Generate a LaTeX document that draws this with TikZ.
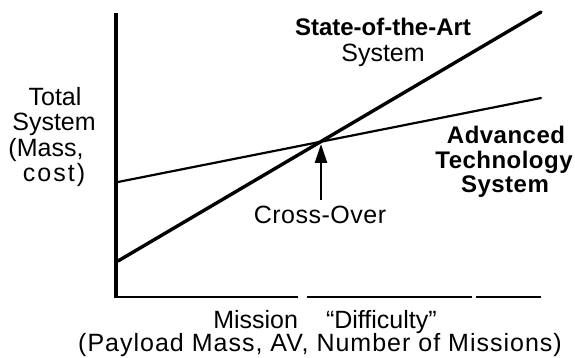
\documentclass[tikz,border=0pt]{standalone}
\usepackage{fontspec}
\setmainfont{Liberation Sans}
\usetikzlibrary{arrows.meta}
\begin{document}
\begin{tikzpicture}[x=1pt,y=-1pt,
  lbl/.style={inner sep=0pt, anchor=base, font=\fontsize{25}{27}\selectfont},
  wlbl/.style={lbl, font=\fontsize{25}{27}\selectfont\addfontfeature{LetterSpace=4}},
  blbl/.style={inner sep=0pt, anchor=base, font=\fontsize{24}{26}\selectfont\bfseries},
  axisv/.style={line width=4pt},
  axish/.style={line width=2.2pt},
  soa/.style={line width=3.4pt, line cap=round},
  adv/.style={line width=2.2pt, line cap=round},
  crossarrow/.style={line width=2.6pt, -{Triangle[width=12pt,length=19pt]}}]
\useasboundingbox (0,0) rectangle (575,358);
% axes
\coordinate (ytop) at (116,13);
\coordinate (orig) at (116,298);
\coordinate (xa1) at (298,297);
\coordinate (xb0) at (307,297);
\coordinate (xb1) at (472,297);
\coordinate (xc0) at (476,297);
\coordinate (xc1) at (541,297);
\draw[axisv] (ytop) -- (orig);
\draw[axish] (114,297) -- (xa1);
\draw[axish] (xb0) -- (xb1);
\draw[axish] (xc0) -- (xc1);
% curves
\coordinate (s0) at (118,261);
\coordinate (s1) at (541,12);
\coordinate (a0) at (118,182);
\coordinate (a1) at (541,98);
\draw[soa] (s0) -- (s1);
\draw[adv] (a0) -- (a1);
% cross-over
\node[wlbl, font=\fontsize{25}{27}\selectfont\addfontfeature{LetterSpace=2}] (cross) at (320,223) {Cross-Over};
\coordinate (tip) at (321,144);
\draw[crossarrow] (321,200) -- (tip);
% labels
\node[blbl] (soaA) at (383,36) {State-of-the-Art};
\node[lbl] (soaB) at (383,62) {System};
\node[blbl, font=\fontsize{24}{26}\selectfont\bfseries\addfontfeature{LetterSpace=2}] (advA) at (506,144) {Advanced};
\node[blbl, font=\fontsize{24}{26}\selectfont\bfseries\addfontfeature{LetterSpace=2}] (advB) at (504,168) {Technology};
\node[blbl, font=\fontsize{24}{26}\selectfont\bfseries\addfontfeature{LetterSpace=2}] (advC) at (505,193) {System};
\node[lbl] (y1) at (55,106) {Total};
\node[lbl] (y2) at (54,131) {System};
\node[lbl] (y3) at (46,157) {(Mass,};
\node[wlbl, font=\fontsize{25}{27}\selectfont\addfontfeature{LetterSpace=8}] (y4) at (54,182) {cost)};
\node[lbl] (x1) at (325,328) {Mission\hspace{28pt}“Difficulty”};
\node[wlbl] (x2) at (320,351) {(Payload Mass, AV, Number of Missions)};
\end{tikzpicture}
\end{document}
